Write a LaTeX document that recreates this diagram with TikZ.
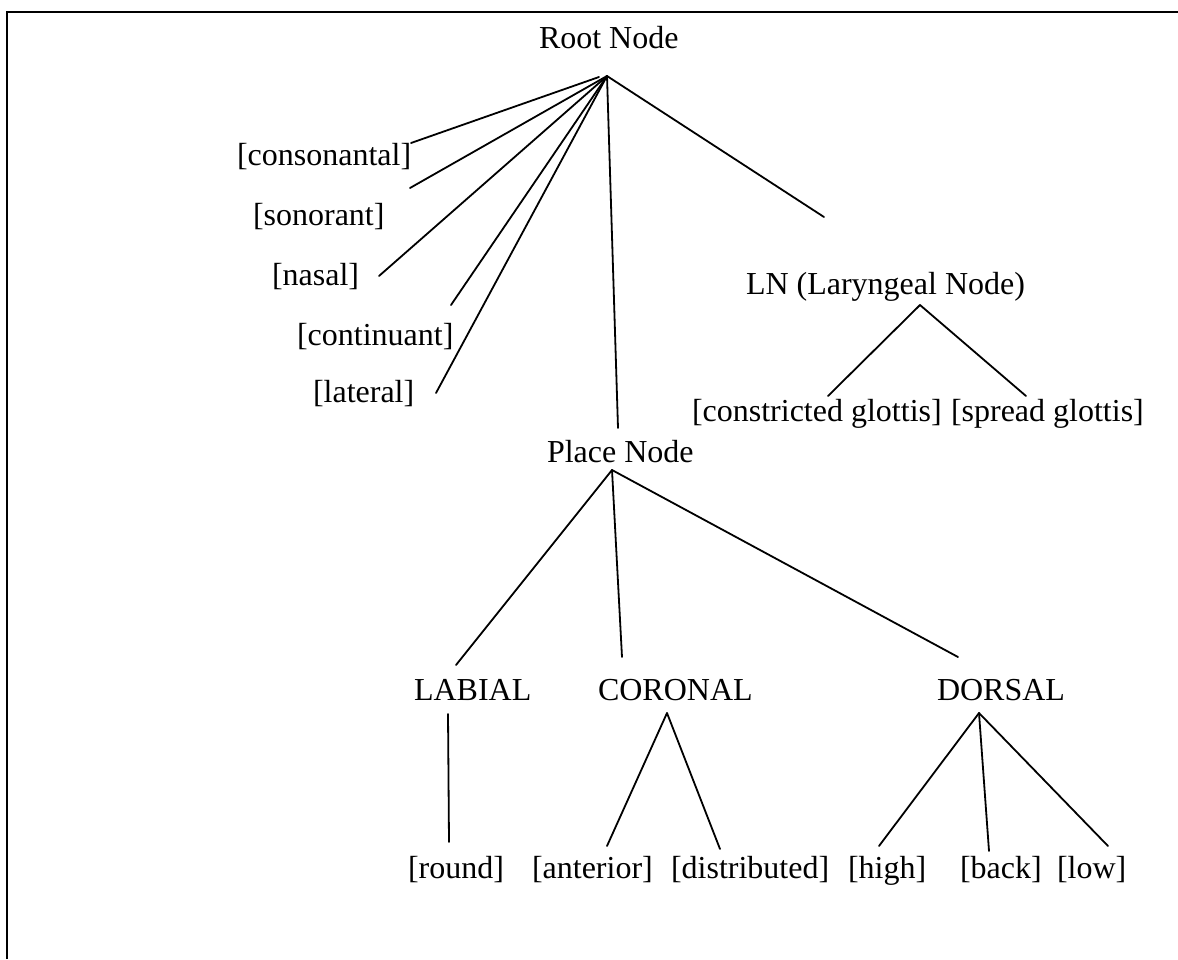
\documentclass[tikz,border=0pt]{standalone}
\usepackage{fontspec}
\setmainfont{Liberation Serif}
\begin{document}
\begin{tikzpicture}[x=1pt,y=-1pt,
  lbl/.style={inner sep=0pt, outer sep=0pt, anchor=base west, font=\fontsize{32}{38}\selectfont},
  edge/.style={line width=1.8pt, line cap=round},
  frameline/.style={line width=2.3pt}]
\useasboundingbox (0,0) rectangle (1178,959);
% frame (only top and left edges visible)
\draw[frameline] (7,959) -- (7,12) -- (1178,12);

% text nodes
\node[lbl] (root) at (539,48) {Root Node};
\node[lbl] (cons) at (237,165) {[consonantal]};
\node[lbl] (son)  at (253,225) {[sonorant]};
\node[lbl] (nas)  at (272,285) {[nasal]};
\node[lbl] (cont) at (297,345) {[continuant]};
\node[lbl] (lat)  at (313,402) {[lateral]};
\node[lbl] (ln)   at (746,294) {LN (Laryngeal Node)};
\node[lbl] (cg)   at (692,421) {[constricted glottis]};
\node[lbl] (sg)   at (951,421) {[spread glottis]};
\node[lbl] (place) at (547,462) {Place Node};
\node[lbl] (lab)  at (414,700) {LABIAL};
\node[lbl] (cor)  at (598,700) {CORONAL};
\node[lbl] (dor)  at (937,700) {DORSAL};
\node[lbl] (rnd)  at (408,878) {[round]};
\node[lbl] (ant)  at (532,878) {[anterior]};
\node[lbl] (dist) at (671,878) {[distributed]};
\node[lbl] (hi)   at (848,878) {[high]};
\node[lbl] (bk)   at (960,878) {[back]};
\node[lbl] (lo)   at (1057,878) {[low]};

% connector end points
\coordinate (rootA) at (607,76);
\coordinate (rootB) at (599,77);
\coordinate (consE) at (411,143);
\coordinate (sonE)  at (410,188);
\coordinate (nasE)  at (379,276);
\coordinate (contE) at (451,305);
\coordinate (latE)  at (436,393);
\coordinate (placeE) at (618,428);
\coordinate (lnE)   at (824,217);
\coordinate (lnA)   at (920,305);
\coordinate (cgE)   at (828,396);
\coordinate (sgE)   at (1026,396);
\coordinate (placeA) at (612,470);
\coordinate (labE)  at (456,665);
\coordinate (corE)  at (622,657);
\coordinate (dorE)  at (958,657);
\coordinate (labA)  at (448,714);
\coordinate (rndE)  at (449,842);
\coordinate (corA)  at (667,713);
\coordinate (antE)  at (607,846);
\coordinate (distE) at (720,849);
\coordinate (dorA)  at (979,713);
\coordinate (hiE)   at (879,846);
\coordinate (bkE)   at (989,851);
\coordinate (loE)   at (1108,846);

% connectors
\draw[edge] (rootB) -- (consE);
\draw[edge] (rootA) -- (sonE);
\draw[edge] (rootA) -- (nasE);
\draw[edge] (rootA) -- (contE);
\draw[edge] (rootA) -- (latE);
\draw[edge] (rootA) -- (placeE);
\draw[edge] (rootA) -- (lnE);
\draw[edge] (lnA) -- (cgE);
\draw[edge] (lnA) -- (sgE);
\draw[edge] (placeA) -- (labE);
\draw[edge] (placeA) -- (corE);
\draw[edge] (placeA) -- (dorE);
\draw[edge] (labA) -- (rndE);
\draw[edge] (corA) -- (antE);
\draw[edge] (corA) -- (distE);
\draw[edge] (dorA) -- (hiE);
\draw[edge] (dorA) -- (bkE);
\draw[edge] (dorA) -- (loE);
\end{tikzpicture}
\end{document}
